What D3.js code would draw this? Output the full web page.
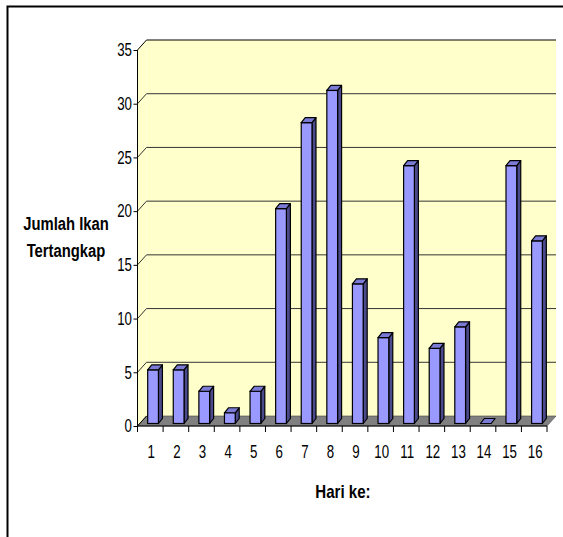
<!DOCTYPE html>
<html><head><meta charset="utf-8">
<script src="https://cdn.jsdelivr.net/npm/d3@7"></script>
<style>body{margin:0;background:#fff}svg{display:block}text{font-family:"Liberation Sans",Arial,sans-serif}</style>
</head><body>
<svg id="c" width="563" height="537"></svg>
<script>
const categories = ["1","2","3","4","5","6","7","8","9","10","11","12","13","14","15","16"];
const values = [5,5,3,1,3,20,28,31,13,8,24,7,9,0,24,17];
const yTicks = [0,5,10,15,20,25,30,35];
const yTitle = ["Jumlah Ikan","Tertangkap"];
const xTitle = "Hari ke:";

const svg = d3.select("#c");
const x = d3.scaleBand().domain(categories).range([137.5, 547]);
const y = d3.scaleLinear().domain([0, 35]).range([426, 50]);
const DX = 9, DY = -10;      // wall depth
const BDX = 4, BDY = -5;     // bar depth
const OFX = 2.5, OFY = -2.5; // bar front plane offset
function narrow(sel, s){
  sel.attr("transform", function(){
    const X = +(this.getAttribute("x")||0);
    return `translate(${X},0) scale(${s},1) translate(${-X},0)`;
  });
}

// outer frame
svg.append("path").attr("d","M7.5,537 V6.5 H563").attr("fill","none").attr("stroke","#000").attr("stroke-width",2);

const x0 = x.range()[0], x1 = x.range()[1];
// side wall
svg.append("path").attr("d",`M${x0},${y(35)} L${x0+DX},${y(35)+DY} L${x0+DX},${y(0)+DY} L${x0},${y(0)} Z`).attr("fill","#FFFFCC");
// back wall
svg.append("rect").attr("x",x0+DX).attr("y",y(35)+DY).attr("width",x1-x0).attr("height",y(0)-y(35)).attr("fill","#FFFFCC");
// gridlines
const gl = yTicks.filter(d=>d>0);
svg.append("g").selectAll("path").data(gl).join("path")
  .attr("d",d=>`M${x0},${y(d)} L${x0+DX},${y(d)+DY} H${x1+DX}`)
  .attr("fill","none").attr("stroke",d=>d===35?"#000":"#333").attr("stroke-width",1);
// floor
svg.append("path").attr("d",`M${x0},${y(0)} L${x0+DX},${y(0)+DY} H${x1+DX} L${x1},${y(0)} Z`)
  .attr("fill","#808080").attr("stroke","#444").attr("stroke-width",0.6);
svg.append("path").attr("d",`M${x0},${y(0)} L${x0+DX},${y(0)+DY}`).attr("stroke","#000");

// bars
const bw = x.bandwidth()*0.42;
const bars = svg.append("g").selectAll("g").data(values).join("g");
bars.each(function(v,i){
  const g = d3.select(this);
  const L = x(categories[i]) + x.bandwidth()*0.3 + OFX;
  const R = L + bw;
  const T = y(v) + OFY, B = y(0) + OFY;
  if (v > 0) {
    g.append("path").attr("d",`M${R},${T} L${R+BDX},${T+BDY} V${B+BDY} L${R},${B} Z`).attr("fill","#4a4a8c").attr("stroke","#000").attr("stroke-width",1.2).attr("stroke-linejoin","round");
    g.append("rect").attr("x",L).attr("y",T).attr("width",bw).attr("height",B-T).attr("fill","#9999FF").attr("stroke","#000").attr("stroke-width",1.2);
  }
  g.append("path").attr("d",`M${L},${T} L${L+BDX},${T+BDY} H${R+BDX} L${R},${T} Z`).attr("fill","#7b7bd6").attr("stroke","#000").attr("stroke-width",1.2).attr("stroke-linejoin","round");
});

// y axis
const ya = svg.append("g").attr("transform",`translate(${x0},0)`).call(d3.axisLeft(y).tickValues(yTicks).tickSize(4).tickPadding(1.5));
ya.select(".domain").attr("stroke","#000").attr("d",`M0,${y(35)} V${y(0)}`);
ya.selectAll("text").attr("font-size",18).attr("fill","#000").style("font-family",null).call(narrow, 0.74);
// x axis
const xa = svg.append("g").attr("transform",`translate(0,${y(0)})`).call(d3.axisBottom(x).tickSize(0).tickPadding(19));
xa.select(".domain").attr("stroke","#000").attr("d",`M${x0},0 H${x1}`);
xa.selectAll("text").attr("x",1).attr("font-size",18).attr("fill","#000").style("font-family",null).call(narrow, 0.74);
const bounds = [x0, ...categories.map(c=>x(c)+x.bandwidth())];
xa.append("g").selectAll("line").data(bounds).join("line").attr("x1",d=>d).attr("x2",d=>d).attr("y1",0).attr("y2",6).attr("stroke","#000");

// titles
svg.append("g").selectAll("text").data(yTitle).join("text")
  .attr("x",66).attr("y",(d,i)=>230+i*27).attr("text-anchor","middle")
  .attr("font-size",19).attr("font-weight","bold").text(d=>d).call(narrow, 0.78);
svg.append("text").attr("x",343).attr("y",498).attr("text-anchor","middle")
  .attr("font-size",18.5).attr("font-weight","bold").text(xTitle).call(narrow, 0.815);
</script>
</body></html>
